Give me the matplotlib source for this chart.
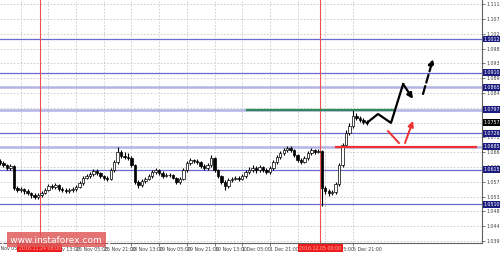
import matplotlib
matplotlib.use('Agg')

import matplotlib.pyplot as plt
import matplotlib.transforms as mtransforms
from matplotlib.patches import Rectangle

# EUR/USD H1, one candle every 2 hours (hour 0 = 23 Nov 09:00)
first_open = 1.0640
closes = [1.0635, 1.0629, 1.0620, 1.0626, 1.0559, 1.0553, 1.0556, 1.0550, 1.0544, 1.0538,
          1.0532, 1.0538, 1.0544, 1.0553, 1.0565, 1.0562, 1.0568, 1.0556, 1.0553, 1.0550,
          1.0553, 1.0556, 1.0562, 1.0574, 1.0590, 1.0596, 1.0602, 1.0611, 1.0605, 1.0596,
          1.0590, 1.0587, 1.0614, 1.0638, 1.0669, 1.0656, 1.0653, 1.0650, 1.0629, 1.0577,
          1.0568, 1.0580, 1.0587, 1.0596, 1.0608, 1.0614, 1.0605, 1.0596, 1.0599, 1.0599,
          1.0590, 1.0577, 1.0587, 1.0614, 1.0635, 1.0644, 1.0641, 1.0638, 1.0626, 1.0620,
          1.0629, 1.0650, 1.0614, 1.0596, 1.0577, 1.0565, 1.0583, 1.0587, 1.0590, 1.0587,
          1.0596, 1.0608, 1.0614, 1.0620, 1.0614, 1.0623, 1.0614, 1.0608, 1.0620, 1.0638,
          1.0653, 1.0665, 1.0675, 1.0681, 1.0675, 1.0659, 1.0644, 1.0638, 1.0650, 1.0665,
          1.0675, 1.0669, 1.0672, 1.0559, 1.0550, 1.0544, 1.0547, 1.0571, 1.0629, 1.0690,
          1.0726, 1.0748, 1.0778, 1.0772, 1.0766, 1.0760, 1.0757]
highs = [1.0648, 1.0640, 1.0633, 1.0632, 1.0628, 1.0565, 1.0562, 1.0560, 1.0555, 1.0548,
         1.0543, 1.0545, 1.0550, 1.0560, 1.0572, 1.0571, 1.0575, 1.0571, 1.0561, 1.0558,
         1.0559, 1.0562, 1.0568, 1.0580, 1.0597, 1.0603, 1.0609, 1.0617, 1.0616, 1.0609,
         1.0600, 1.0595, 1.0619, 1.0645, 1.0683, 1.0675, 1.0668, 1.0666, 1.0655, 1.0633,
         1.0583, 1.0586, 1.0592, 1.0602, 1.0613, 1.0620, 1.0618, 1.0610, 1.0605, 1.0604,
         1.0603, 1.0594, 1.0592, 1.0619, 1.0641, 1.0650, 1.0648, 1.0646, 1.0642, 1.0631,
         1.0635, 1.0659, 1.0654, 1.0618, 1.0600, 1.0582, 1.0589, 1.0593, 1.0596, 1.0595,
         1.0602, 1.0614, 1.0622, 1.0628, 1.0626, 1.0630, 1.0627, 1.0619, 1.0626, 1.0644,
         1.0659, 1.0672, 1.0682, 1.0688, 1.0686, 1.0679, 1.0663, 1.0649, 1.0656, 1.0671,
         1.0680, 1.0679, 1.0678, 1.0674, 1.0566, 1.0555, 1.0553, 1.0577, 1.0636, 1.0697,
         1.0734, 1.0757, 1.0796, 1.0787, 1.0779, 1.0771, 1.0766]
lows = [1.0628, 1.0622, 1.0614, 1.0615, 1.0553, 1.0546, 1.0547, 1.0541, 1.0537, 1.0530,
        1.0526, 1.0527, 1.0533, 1.0540, 1.0549, 1.0555, 1.0557, 1.0550, 1.0547, 1.0544,
        1.0545, 1.0548, 1.0551, 1.0558, 1.0569, 1.0585, 1.0591, 1.0597, 1.0598, 1.0590,
        1.0584, 1.0580, 1.0583, 1.0609, 1.0632, 1.0650, 1.0646, 1.0643, 1.0622, 1.0570,
        1.0560, 1.0563, 1.0575, 1.0582, 1.0590, 1.0603, 1.0600, 1.0591, 1.0592, 1.0593,
        1.0585, 1.0570, 1.0572, 1.0583, 1.0609, 1.0630, 1.0636, 1.0632, 1.0620, 1.0614,
        1.0615, 1.0624, 1.0608, 1.0590, 1.0570, 1.0552, 1.0560, 1.0578, 1.0582, 1.0581,
        1.0582, 1.0591, 1.0603, 1.0609, 1.0606, 1.0609, 1.0607, 1.0601, 1.0603, 1.0615,
        1.0632, 1.0648, 1.0660, 1.0670, 1.0668, 1.0652, 1.0637, 1.0632, 1.0634, 1.0645,
        1.0660, 1.0663, 1.0664, 1.0505, 1.0541, 1.0536, 1.0538, 1.0542, 1.0566, 1.0623,
        1.0684, 1.0720, 1.0742, 1.0765, 1.0760, 1.0754, 1.0751]
bar_step = 2

# support / resistance levels
blue_levels = [1.1012, 1.0910, 1.0726, 1.0615, 1.0510]
light_levels = [1.0865, 1.0797, 1.0685]
last_price = 1.0757

# price scale
y_ticks = [1.0398, 1.0443, 1.0488, 1.0533, 1.0578, 1.0623, 1.0668, 1.0713, 1.0758,
           1.0803, 1.0848, 1.0893, 1.0938, 1.0983, 1.1028, 1.1073, 1.1118]
x_ticks = [-4, 12, 28, 44, 60, 76, 92, 108, 124, 140, 156, 172, 188, 204]
x_labels = ["23 Nov 05:00", "23 Nov 21:00", "24 Nov 13:00", "25 Nov 05:00", "25 Nov 21:00",
            "28 Nov 13:00", "29 Nov 05:00", "29 Nov 21:00", "30 Nov 13:00", "1 Dec 05:00",
            "1 Dec 21:00", "2 Dec 13:00", "5 Dec 05:00", "5 Dec 21:00"]
red_marks = [23, 185]
red_mark_labels = ["2016.11.24 08:00", "2016.12.05 00:00"]

# drawn lines (hour, price)
green_line = ([143, 227], 1.0797)
red_line = ([194, 275], 1.0685)
black_path_x = [212, 218.5, 226, 233]
black_path_y = [1.0757, 1.0784, 1.0757, 1.0875]
black_tip = (238.7, 1.0830)
black_arrow = ((244.5, 1.0845), (250.3, 1.0951))
red_stroke = ((224.3, 1.0732), (230.6, 1.0696))
red_arrow = ((234.1, 1.0696), (238.7, 1.0763))

fig = plt.figure(figsize=(5, 2.54), dpi=100)
ax = fig.add_axes([0, 11 / 254, 482 / 500, 243 / 254])
ax.set_xlim(0, 278.6)
ax.set_ylim(1.03919, 1.11306)

# grid
for yt in y_ticks:
    ax.axhline(yt, color='#c8c8c8', lw=0.6, ls=(0, (2, 2)), zorder=0)
for xt in x_ticks:
    ax.axvline(xt, color='#c8c8c8', lw=0.6, ls=(0, (2, 2)), zorder=0)

# levels
for lv in blue_levels:
    ax.axhline(lv, color='#6a6ad2', lw=0.9, zorder=1)
for lv in light_levels:
    ax.axhline(lv, color='#b4b4e6', lw=1.8, zorder=1)

for xm in red_marks:
    ax.axvline(xm, color='#f05050', lw=0.8, zorder=1)

# candles
opens = [first_open] + closes[:-1]
for i in range(len(closes)):
    x = i * bar_step
    o, c = opens[i], closes[i]
    ax.vlines(x, lows[i], highs[i], color='black', lw=0.8, zorder=3)
    body_lo = min(o, c)
    body_h = max(abs(c - o), 0.00008)
    ax.add_patch(Rectangle((x - 0.7, body_lo), 1.4, body_h,
                           facecolor='white' if c >= o else 'black',
                           edgecolor='black', lw=0.5, zorder=4))

# drawn lines
ax.plot(green_line[0], [green_line[1]] * 2, color='#2e8b57', lw=1.6, zorder=5)
ax.plot(red_line[0], [red_line[1]] * 2, color='#ee3030', lw=1.6, zorder=5)
ax.plot(black_path_x, black_path_y, color='black', lw=1.6, zorder=6)
ax.annotate('', xy=black_tip, xytext=(black_path_x[-1], black_path_y[-1]),
            arrowprops=dict(arrowstyle='-|>', color='black', lw=1.6,
                            mutation_scale=8, shrinkA=0, shrinkB=0), zorder=6)
ax.annotate('', xy=black_arrow[1], xytext=black_arrow[0],
            arrowprops=dict(arrowstyle='-|>', color='black', lw=1.6, ls='--',
                            mutation_scale=8, shrinkA=0, shrinkB=0), zorder=6)
ax.plot([red_stroke[0][0], red_stroke[1][0]], [red_stroke[0][1], red_stroke[1][1]],
        color='#ee3030', lw=1.4, zorder=6)
ax.annotate('', xy=red_arrow[1], xytext=red_arrow[0],
            arrowprops=dict(arrowstyle='-|>', color='#ee3030', lw=1.4,
                            mutation_scale=8, shrinkA=0, shrinkB=0), zorder=6)

# axes look
for s in ['top', 'left']:
    ax.spines[s].set_visible(False)
for s in ['right', 'bottom']:
    ax.spines[s].set_color('#606060')
    ax.spines[s].set_linewidth(0.8)

ax.yaxis.tick_right()
ax.set_yticks(y_ticks, [f"{v:.4f}" for v in y_ticks])
ax.tick_params(axis='y', labelsize=3.4, length=2, width=0.5, colors='#404040', pad=1.2)
ax.set_xticks(x_ticks[1:], x_labels[1:])
ax.tick_params(axis='x', labelsize=3.4, length=2, width=0.5, colors='#404040', pad=1)
for lab in ax.get_xticklabels():
    lab.set_horizontalalignment('left')

xtr = mtransforms.blended_transform_factory(ax.transData, ax.transAxes)
# first label starts left of the view and is cut by the edge
ax.text(x_ticks[0], -0.012, x_labels[0], transform=xtr, fontsize=3.4, color='#404040',
        va='top', ha='left', clip_on=False)

# price boxes on right scale
ytr = mtransforms.blended_transform_factory(ax.transAxes, ax.transData)
for lv in blue_levels + light_levels:
    ax.text(1.004, lv, f"{lv:.4f}", transform=ytr, fontsize=3.4, color='white',
            va='center', ha='left', clip_on=False, zorder=10,
            bbox=dict(boxstyle='square,pad=0.2', fc='#1c1c80', ec='none'))
ax.text(1.004, last_price, f"{last_price:.4f}", transform=ytr, fontsize=3.4, color='white',
        va='center', ha='left', clip_on=False, zorder=11,
        bbox=dict(boxstyle='square,pad=0.2', fc='black', ec='none'))

# red date boxes on time scale
for xm, lab in zip(red_marks, red_mark_labels):
    ax.text(xm, -0.012, lab, transform=xtr, fontsize=3.4, color='#ffb0b0',
            va='top', ha='center', clip_on=False, zorder=11,
            bbox=dict(boxstyle='square,pad=0.3', fc='#ee1c1c', ec='none'))

# watermark
fig.patches.append(Rectangle((7 / 500, 7 / 254), 99 / 500, 15 / 254, transform=fig.transFigure,
                             facecolor='#e05a5a', alpha=0.85, edgecolor='none', zorder=20))
fig.text(56 / 500, 14.5 / 254, "[  www.instaforex.com  ]", color='white', fontsize=6.5,
         ha='center', va='center', zorder=21)

fig.savefig('out.png', dpi=100)
